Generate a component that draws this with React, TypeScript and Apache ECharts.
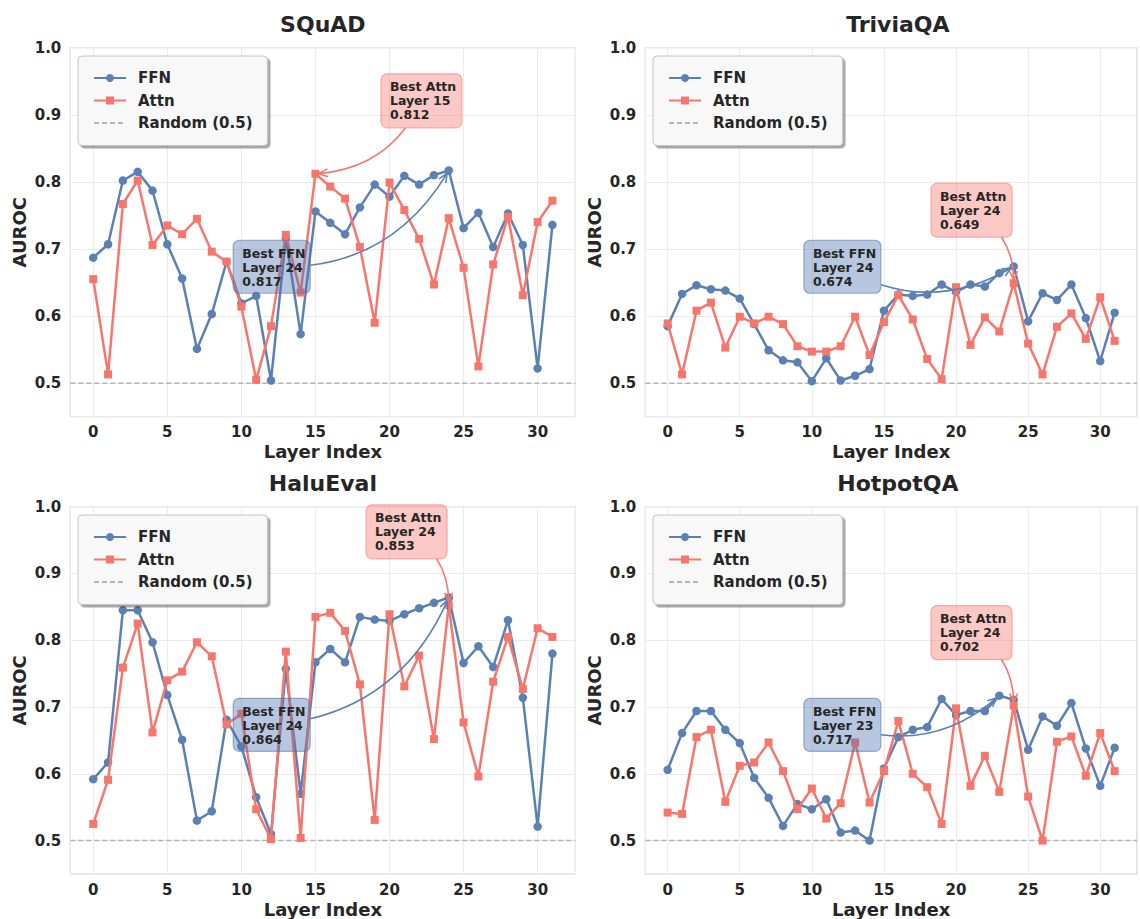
import { useEffect, useRef } from 'react';
import * as echarts from 'echarts';

// Layer index (x) for every per-layer probe result
const LAYER_INDEX = [0, 1, 2, 3, 4, 5, 6, 7, 8, 9, 10, 11, 12, 13, 14, 15, 16, 17, 18, 19, 20, 21, 22, 23, 24, 25, 26, 27, 28, 29, 30, 31];

const PANEL_TITLES = ['SQuAD', 'TriviaQA', 'HaluEval', 'HotpotQA'];
const SERIES_NAMES = ['FFN', 'Attn', 'Random (0.5)'];
const RANDOM_AUROC = 0.5;

// AUROC per layer
const SQUAD_FFN = [0.687, 0.707, 0.802, 0.815, 0.787, 0.707, 0.656, 0.551, 0.603, 0.681, 0.619, 0.630, 0.504, 0.716, 0.573, 0.756, 0.739, 0.722, 0.762, 0.796, 0.778, 0.809, 0.796, 0.810, 0.817, 0.731, 0.754, 0.703, 0.753, 0.706, 0.522, 0.736];
const SQUAD_ATTN = [0.655, 0.513, 0.767, 0.802, 0.706, 0.735, 0.722, 0.745, 0.696, 0.681, 0.614, 0.505, 0.585, 0.721, 0.635, 0.812, 0.793, 0.775, 0.703, 0.590, 0.799, 0.758, 0.715, 0.647, 0.746, 0.672, 0.525, 0.677, 0.748, 0.631, 0.740, 0.772];
const TRIVIA_FFN = [0.585, 0.633, 0.646, 0.640, 0.638, 0.626, 0.588, 0.549, 0.534, 0.531, 0.503, 0.537, 0.504, 0.511, 0.521, 0.608, 0.632, 0.630, 0.632, 0.647, 0.636, 0.647, 0.644, 0.664, 0.674, 0.592, 0.634, 0.624, 0.647, 0.597, 0.533, 0.605];
const TRIVIA_ATTN = [0.589, 0.513, 0.608, 0.620, 0.553, 0.599, 0.589, 0.599, 0.588, 0.555, 0.547, 0.547, 0.555, 0.599, 0.542, 0.591, 0.631, 0.595, 0.536, 0.506, 0.643, 0.557, 0.598, 0.577, 0.649, 0.559, 0.513, 0.584, 0.604, 0.566, 0.628, 0.563];
const HALU_FFN = [0.592, 0.617, 0.845, 0.845, 0.797, 0.718, 0.651, 0.530, 0.544, 0.681, 0.641, 0.565, 0.510, 0.757, 0.570, 0.767, 0.787, 0.767, 0.835, 0.831, 0.829, 0.839, 0.848, 0.856, 0.864, 0.766, 0.791, 0.760, 0.830, 0.714, 0.521, 0.780];
const HALU_ATTN = [0.525, 0.591, 0.759, 0.825, 0.662, 0.740, 0.753, 0.797, 0.776, 0.674, 0.690, 0.547, 0.502, 0.783, 0.504, 0.835, 0.841, 0.814, 0.734, 0.531, 0.839, 0.731, 0.777, 0.652, 0.853, 0.677, 0.596, 0.738, 0.805, 0.727, 0.818, 0.805];
const HOTPOT_FFN = [0.606, 0.661, 0.694, 0.694, 0.666, 0.646, 0.594, 0.564, 0.522, 0.555, 0.547, 0.562, 0.512, 0.515, 0.500, 0.608, 0.655, 0.666, 0.670, 0.712, 0.688, 0.694, 0.694, 0.717, 0.711, 0.636, 0.686, 0.672, 0.706, 0.638, 0.582, 0.639];
const HOTPOT_ATTN = [0.542, 0.540, 0.655, 0.666, 0.558, 0.612, 0.617, 0.647, 0.604, 0.547, 0.578, 0.533, 0.556, 0.647, 0.557, 0.604, 0.679, 0.600, 0.580, 0.525, 0.698, 0.582, 0.627, 0.573, 0.702, 0.566, 0.500, 0.648, 0.656, 0.597, 0.661, 0.604];

const FFN_BY_PANEL = [SQUAD_FFN, TRIVIA_FFN, HALU_FFN, HOTPOT_FFN];
const ATTN_BY_PANEL = [SQUAD_ATTN, TRIVIA_ATTN, HALU_ATTN, HOTPOT_ATTN];

// Axis ranges
const X_MIN = -1.55;
const X_MAX = 32.55;
const Y_MIN = 0.45;
const Y_MAX = 1.0;

// Layout (px)
const W = 1140;
const H = 919;
const GRID_LEFT = [70.3, 645.3, 70.3, 645.3];
const GRID_TOP = [47.7, 47.7, 506.7, 506.7];
const GRID_W = 505.1;
const GRID_H = 369;

const FONT = '"DejaVu Sans", "Liberation Sans", sans-serif';
const TEXT = '#262626';
const FFN_COLOR = '#5B81B4';
const ATTN_COLOR = '#F7766C';
const RANDOM_COLOR = '#b4b4b4';
const FFN_BOX_FILL = 'rgba(76,114,176,0.4)';
const FFN_BOX_EDGE = 'rgba(76,114,176,0.55)';
const ATTN_BOX_FILL = 'rgba(248,118,109,0.4)';
const ATTN_BOX_EDGE = 'rgba(248,118,109,0.55)';

type Pt = [number, number];

function argmax(arr: number[]): number {
  let k = 0;
  arr.forEach((v, i) => {
    if (v > arr[k]) k = i;
  });
  return k;
}

function quad(p0: Pt, c: Pt, p2: Pt, t: number): Pt {
  const u = 1 - t;
  return [
    u * u * p0[0] + 2 * u * t * c[0] + t * t * p2[0],
    u * u * p0[1] + 2 * u * t * c[1] + t * t * p2[1],
  ];
}

// control point of the sub-curve on [a, b]
function blossom(p0: Pt, c: Pt, p2: Pt, a: number, b: number): Pt {
  const w0 = (1 - a) * (1 - b);
  const w1 = (1 - a) * b + a * (1 - b);
  const w2 = a * b;
  return [w0 * p0[0] + w1 * c[0] + w2 * p2[0], w0 * p0[1] + w1 * c[1] + w2 * p2[1]];
}

interface Box { x: number; y: number; w: number; h: number }

// Curved "arc3"-style arrow from the box centre to the target, clipped at the box edge
function curvedArrow(box: Box, target: Pt, rad: number, color: string): any[] {
  const start: Pt = [box.x + box.w / 2, box.y + box.h / 2];
  const x1 = start[0], y1 = -start[1], x2 = target[0], y2 = -target[1];
  const cx = (x1 + x2) / 2 + rad * (y2 - y1);
  const cy = (y1 + y2) / 2 - rad * (x2 - x1);
  const c: Pt = [cx, -cy];
  let a = 0;
  for (let t = 0; t <= 1; t += 0.002) {
    const p = quad(start, c, target, t);
    if (p[0] < box.x || p[0] > box.x + box.w || p[1] < box.y || p[1] > box.y + box.h) {
      a = t;
      break;
    }
  }
  let b = 1;
  for (let t = 1; t >= a; t -= 0.002) {
    const p = quad(start, c, target, t);
    if (Math.hypot(p[0] - target[0], p[1] - target[1]) >= 3) {
      b = t;
      break;
    }
  }
  const q0 = quad(start, c, target, a);
  const q2 = quad(start, c, target, b);
  const q1 = blossom(start, c, target, a, b);
  const ang = Math.atan2(q2[1] - q1[1], q2[0] - q1[0]);
  const len = 9;
  const half = 4;
  const back: Pt = [q2[0] - len * Math.cos(ang), q2[1] - len * Math.sin(ang)];
  const left: Pt = [back[0] + half * Math.sin(ang), back[1] - half * Math.cos(ang)];
  const right: Pt = [back[0] - half * Math.sin(ang), back[1] + half * Math.cos(ang)];
  return [
    {
      type: 'bezierCurve',
      z: 50,
      silent: true,
      shape: { x1: q0[0], y1: q0[1], x2: q2[0], y2: q2[1], cpx1: q1[0], cpy1: q1[1] },
      style: { stroke: color, lineWidth: 1.6, fill: null },
    },
    {
      type: 'polyline',
      z: 50,
      silent: true,
      shape: { points: [left, q2, right] },
      style: { stroke: color, lineWidth: 1.6, fill: null },
    },
  ];
}

function labelBox(box: Box, text: string, fill: string, edge: string): any[] {
  return [
    {
      type: 'rect',
      z: 60,
      silent: true,
      shape: { x: box.x, y: box.y, width: box.w, height: box.h, r: 6 },
      style: { fill, stroke: edge, lineWidth: 1.2 },
    },
    {
      type: 'text',
      z: 61,
      silent: true,
      x: box.x + 9,
      y: box.y + 6,
      style: {
        text,
        fill: TEXT,
        font: `bold 12.5px ${FONT}`,
        lineHeight: 14,
        align: 'left',
        verticalAlign: 'top',
      },
    },
  ];
}

export default function App() {
  const ref = useRef<HTMLDivElement>(null);

  useEffect(() => {
    if (!ref.current) return;
    const chart = echarts.init(ref.current, null, { renderer: 'svg', width: W, height: H });

    const grids = PANEL_TITLES.map((_, i) => ({
      left: GRID_LEFT[i],
      top: GRID_TOP[i],
      width: GRID_W,
      height: GRID_H,
      show: true,
      backgroundColor: '#ffffff',
      borderColor: '#cfcfcf',
      borderWidth: 1.2,
    }));

    const xAxes = PANEL_TITLES.map((_, i) => ({
      type: 'value',
      gridIndex: i,
      min: X_MIN,
      max: X_MAX,
      splitNumber: 7,
      axisLine: { show: false },
      axisTick: { show: false },
      splitLine: { show: true, lineStyle: { color: '#ebebeb', width: 1 } },
      axisLabel: {
        margin: 8,
        color: TEXT,
        fontSize: 15,
        fontWeight: 'bold',
        fontFamily: FONT,
        formatter: (v: number) => (Math.abs(v - Math.round(v)) < 1e-6 ? String(Math.round(v)) : ''),
      },
      name: 'Layer Index',
      nameLocation: 'middle',
      nameGap: 26,
      nameTextStyle: { color: TEXT, fontSize: 18, fontWeight: 'bold', fontFamily: FONT },
    }));

    const yAxes = PANEL_TITLES.map((_, i) => ({
      type: 'value',
      gridIndex: i,
      min: Y_MIN,
      max: Y_MAX,
      splitNumber: 5,
      axisLine: { show: false },
      axisTick: { show: false },
      splitLine: { show: true, lineStyle: { color: '#ebebeb', width: 1 } },
      axisLabel: {
        margin: 9,
        color: TEXT,
        fontSize: 15,
        fontWeight: 'bold',
        fontFamily: FONT,
        formatter: (v: number) => (Math.abs(v * 10 - Math.round(v * 10)) < 1e-6 ? v.toFixed(1) : ''),
      },
      name: 'AUROC',
      nameLocation: 'middle',
      nameGap: 42,
      nameTextStyle: { color: TEXT, fontSize: 18, fontWeight: 'bold', fontFamily: FONT },
    }));

    const series: any[] = [];
    PANEL_TITLES.forEach((_, i) => {
      series.push({
        name: SERIES_NAMES[2],
        type: 'line',
        xAxisIndex: i,
        yAxisIndex: i,
        data: [[X_MIN, RANDOM_AUROC], [X_MAX, RANDOM_AUROC]],
        symbol: 'none',
        silent: true,
        z: 1,
        lineStyle: { color: RANDOM_COLOR, width: 1.5, type: [5, 3] },
        itemStyle: { color: RANDOM_COLOR },
      });
      series.push({
        name: SERIES_NAMES[0],
        type: 'line',
        xAxisIndex: i,
        yAxisIndex: i,
        data: LAYER_INDEX.map((l, k) => [l, FFN_BY_PANEL[i][k]]),
        symbol: 'circle',
        symbolSize: 8.5,
        silent: true,
        z: 2,
        lineStyle: { color: FFN_COLOR, width: 2.5 },
        itemStyle: { color: FFN_COLOR },
      });
      series.push({
        name: SERIES_NAMES[1],
        type: 'line',
        xAxisIndex: i,
        yAxisIndex: i,
        data: LAYER_INDEX.map((l, k) => [l, ATTN_BY_PANEL[i][k]]),
        symbol: 'rect',
        symbolSize: 8,
        silent: true,
        z: 3,
        lineStyle: { color: ATTN_COLOR, width: 2.5 },
        itemStyle: { color: ATTN_COLOR },
      });
    });

    const legends = PANEL_TITLES.map((_, i) => ({
      data: [
        { name: SERIES_NAMES[0] },
        { name: SERIES_NAMES[1] },
        { name: SERIES_NAMES[2], itemStyle: { opacity: 0 } },
      ],
      orient: 'vertical',
      left: GRID_LEFT[i] + 7.7,
      top: GRID_TOP[i] + 8.3,
      padding: [14.5, 15, 15, 15],
      itemWidth: 32,
      itemHeight: 10,
      itemGap: 7.5,
      selectedMode: false,
      backgroundColor: '#f8f8f8',
      borderColor: '#c4c4c4',
      borderWidth: 1,
      borderRadius: 4,
      shadowColor: 'rgba(0,0,0,0.35)',
      shadowBlur: 0,
      shadowOffsetX: 2.5,
      shadowOffsetY: 2.5,
      textStyle: {
        color: TEXT,
        fontSize: 15,
        fontWeight: 'bold',
        fontFamily: FONT,
        padding: [0, 0, 0, 7],
      },
    }));

    chart.setOption({
      animation: false,
      backgroundColor: '#ffffff',
      grid: grids,
      xAxis: xAxes,
      yAxis: yAxes,
      legend: legends,
      series,
    });

    // Titles and "best layer" call-outs, placed through the axes' own scales
    const elements: any[] = [];
    PANEL_TITLES.forEach((title, i) => {
      elements.push({
        type: 'text',
        silent: true,
        x: GRID_LEFT[i] + GRID_W / 2,
        y: GRID_TOP[i] - 23.5,
        style: {
          text: title,
          fill: TEXT,
          font: `bold 22px ${FONT}`,
          align: 'center',
          verticalAlign: 'middle',
        },
      });

      const ffn = FFN_BY_PANEL[i];
      const attn = ATTN_BY_PANEL[i];
      const kf = argmax(ffn);
      const ka = argmax(attn);
      const finder = { gridIndex: i };
      const pf = chart.convertToPixel(finder, [LAYER_INDEX[kf], ffn[kf]]) as number[];
      const pa = chart.convertToPixel(finder, [LAYER_INDEX[ka], attn[ka]]) as number[];

      const ffnCorner = chart.convertToPixel(finder, [9.45, 0.713]) as number[];
      const ffnBox: Box = { x: ffnCorner[0], y: ffnCorner[1], w: 77, h: 53 };
      const attnBox: Box = {
        x: LAYER_INDEX[ka] < 16 ? pa[0] + 65.5 : pa[0] - 82.7,
        y: pa[1] - 100,
        w: 81,
        h: 54,
      };

      elements.push(...curvedArrow(ffnBox, [pf[0], pf[1]], 0.3, FFN_COLOR));
      elements.push(...curvedArrow(attnBox, [pa[0], pa[1]], -0.3, ATTN_COLOR));
      elements.push(
        ...labelBox(ffnBox, `Best FFN\nLayer ${LAYER_INDEX[kf]}\n${ffn[kf].toFixed(3)}`, FFN_BOX_FILL, FFN_BOX_EDGE),
      );
      elements.push(
        ...labelBox(attnBox, `Best Attn\nLayer ${LAYER_INDEX[ka]}\n${attn[ka].toFixed(3)}`, ATTN_BOX_FILL, ATTN_BOX_EDGE),
      );
    });

    chart.setOption({ graphic: { elements } });

    return () => {
      chart.dispose();
    };
  }, []);

  return (
    <div
      ref={ref}
      style={{ position: 'absolute', left: 0, top: 0, width: W, height: H, background: '#ffffff' }}
    />
  );
}
